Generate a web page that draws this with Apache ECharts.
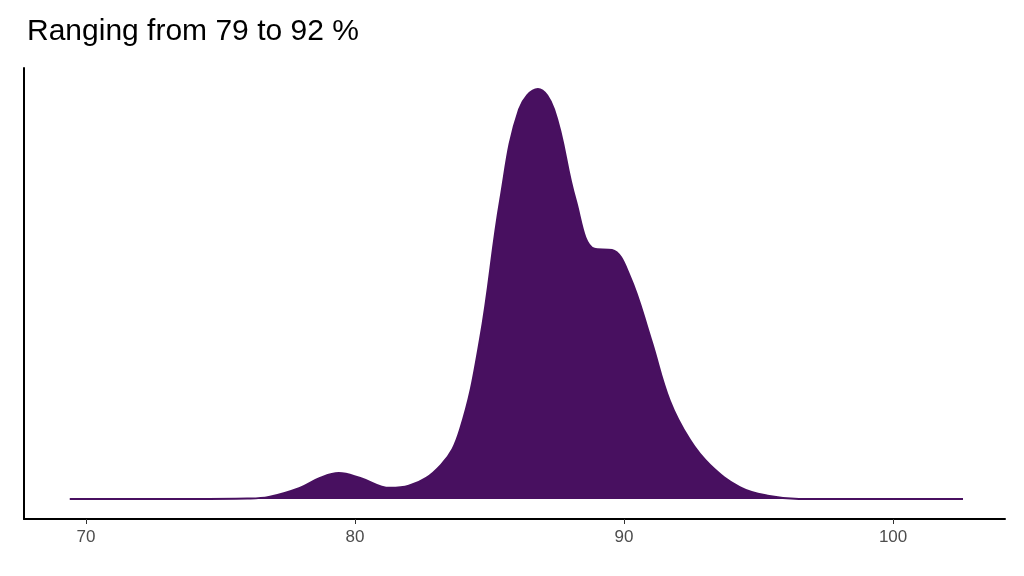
<!DOCTYPE html><html><head><meta charset="utf-8"><script src="https://cdn.jsdelivr.net/npm/echarts@6/dist/echarts.min.js"></script></head><body style="margin:0"><div id="c" style="width:1024px;height:576px"></div><script>
const xs=[69.4,72,74,76,76.8,77.95,78.7,79.4,80.2,81.3,82.0,83.2,83.9,84.65,85.4,86.1,86.8,87.4,88.2,88.9,89.55,90.2,91.0,91.7,92.45,93.2,94.3,95.4,96.5,99,102.6];
const ys=[0,0,0,0.001,0.005,0.027,0.051,0.063,0.051,0.027,0.032,0.083,0.168,0.39,0.73,0.95,1.0,0.95,0.73,0.61,0.607,0.546,0.39,0.24,0.144,0.083,0.029,0.007,0,0,0];
const ticks=[70,80,90,100];
const ch=echarts.init(document.getElementById('c'));
ch.setOption({animation:false,
title:{text:'Ranging from 79 to 92 %',left:22,top:12,textStyle:{fontSize:30,fontWeight:'normal',color:'#000',fontFamily:'Liberation Sans'}},
grid:{left:24,right:19,top:68,bottom:57},
xAxis:{type:'value',min:67.7,max:104.16,axisLine:{onZero:false,lineStyle:{color:'#000',width:2}},axisTick:{customValues:ticks,lineStyle:{color:'#333'},length:5},splitLine:{show:false},
axisLabel:{customValues:ticks,fontSize:17,margin:10,color:'#4d4d4d',fontFamily:'Liberation Sans'}},
yAxis:{type:'value',min:-0.049,max:1.051,axisLine:{show:true,onZero:false,lineStyle:{color:'#000',width:2}},axisTick:{show:false},axisLabel:{show:false},splitLine:{show:false}},
series:[{type:'line',smooth:0.4,symbol:'none',data:xs.map((x,i)=>[x,ys[i]]),lineStyle:{color:'#481060',width:2},areaStyle:{color:'#481060',opacity:1,origin:0}}]});
</script></body></html>
